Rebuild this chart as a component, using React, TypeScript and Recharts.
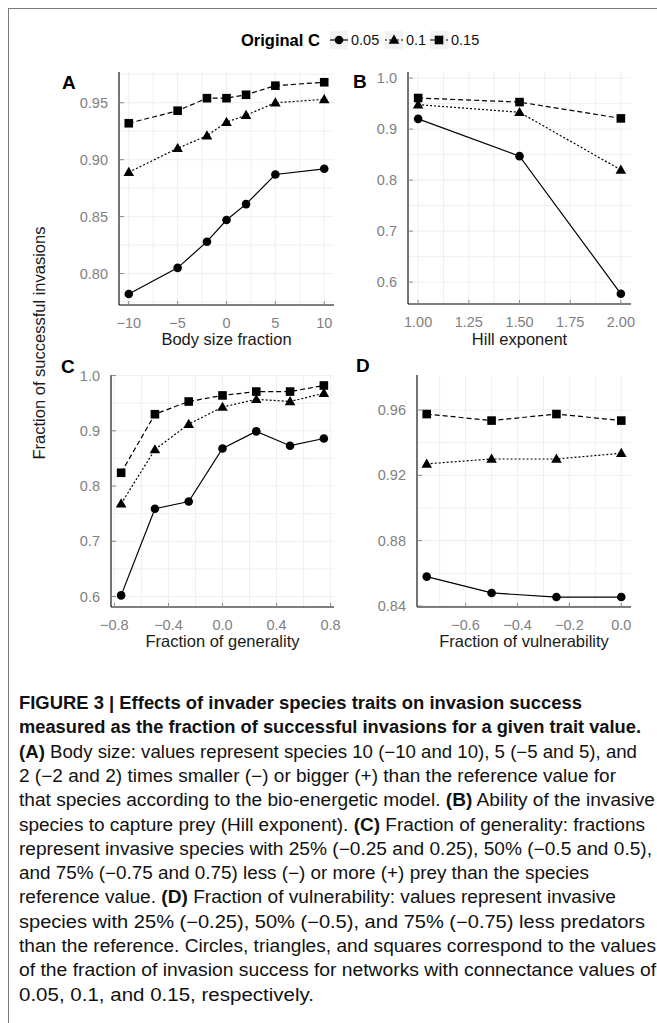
import React from "react";
import { LineChart, Line, XAxis, YAxis, CartesianGrid } from "recharts";

// ---- data ----
const bodySize = [-10, -5, -2, 0, 2, 5, 10];
const bodyC005 = [0.782, 0.805, 0.828, 0.847, 0.861, 0.887, 0.892];
const bodyC01 = [0.889, 0.91, 0.921, 0.933, 0.939, 0.95, 0.953];
const bodyC015 = [0.932, 0.943, 0.954, 0.954, 0.957, 0.965, 0.968];

const hill = [1, 1.5, 2];
const hillC005 = [0.92, 0.847, 0.577];
const hillC01 = [0.948, 0.933, 0.82];
const hillC015 = [0.961, 0.953, 0.921];

const generality = [-0.75, -0.5, -0.25, 0, 0.25, 0.5, 0.75];
const genC005 = [0.602, 0.759, 0.772, 0.868, 0.899, 0.873, 0.886];
const genC01 = [0.768, 0.866, 0.912, 0.943, 0.957, 0.953, 0.968];
const genC015 = [0.824, 0.93, 0.953, 0.964, 0.971, 0.971, 0.982];

const vulnerability = [-0.75, -0.5, -0.25, 0];
const vulC005 = [0.858, 0.848, 0.8455, 0.8455];
const vulC01 = [0.927, 0.93, 0.93, 0.9335];
const vulC015 = [0.9575, 0.9535, 0.9575, 0.9535];

// ticks (major) and minor grid values
const aXTicks = [-10, -5, 0, 5, 10];
const aXMinor = [-7.5, -2.5, 2.5, 7.5];
const aYTicks = [0.8, 0.85, 0.9, 0.95];
const aYMinor = [0.775, 0.825, 0.875, 0.925, 0.975];

const bXTicks = [1, 1.25, 1.5, 1.75, 2];
const bXMinor = [1.125, 1.375, 1.625, 1.875];
const bYTicks = [0.6, 0.7, 0.8, 0.9, 1.0];
const bYMinor = [0.65, 0.75, 0.85, 0.95];

const cXTicks = [-0.8, -0.4, 0, 0.4, 0.8];
const cXMinor = [-0.6, -0.2, 0.2, 0.6];
const cYTicks = [0.6, 0.7, 0.8, 0.9, 1.0];
const cYMinor = [0.65, 0.75, 0.85, 0.95];

const dXTicks = [-0.6, -0.4, -0.2, 0];
const dXMinor = [-0.7, -0.5, -0.3, -0.1];
const dYTicks = [0.84, 0.88, 0.92, 0.96];
const dYMinor = [0.86, 0.9, 0.94];

const legendLabels = ["0.05", "0.1", "0.15"];

const captionLines: [string, boolean][][] = [
  [["FIGURE 3 | Effects of invader species traits on invasion success", true]],
  [["measured as the fraction of successful invasions for a given trait value.", true]],
  [["(A)", true], [" Body size: values represent species 10 (\u221210 and 10), 5 (\u22125 and 5), and", false]],
  [["2 (\u22122 and 2) times smaller (\u2212) or bigger (+) than the reference value for", false]],
  [["that species according to the bio-energetic model. ", false], ["(B)", true], [" Ability of the invasive", false]],
  [["species to capture prey (Hill exponent). ", false], ["(C)", true], [" Fraction of generality: fractions", false]],
  [["represent invasive species with 25% (\u22120.25 and 0.25), 50% (\u22120.5 and 0.5),", false]],
  [["and 75% (\u22120.75 and 0.75) less (\u2212) or more (+) prey than the species", false]],
  [["reference value. ", false], ["(D)", true], [" Fraction of vulnerability: values represent invasive", false]],
  [["species with 25% (\u22120.25), 50% (\u22120.5), and 75% (\u22120.75) less predators", false]],
  [["than the reference. Circles, triangles, and squares correspond to the values", false]],
  [["of the fraction of invasion success for networks with connectance values of", false]],
  [["0.05, 0.1, and 0.15, respectively.", false]],
];
const captionEnds = [582, 641, 637, 616, 655, 645, 652, 589, 616, 645, 656, 656, 314];

const FONT = "'Liberation Sans', Arial, Helvetica, sans-serif";

const toRows = (xs: number[], a: number[], b: number[], c: number[]) =>
  xs.map((x, i) => ({ x, c05: a[i], c10: b[i], c15: c[i] }));

const fmt = (v: number, d: number) => {
  const s = Math.abs(v).toFixed(d);
  return v < -1e-9 ? "\u2212" + s : s;
};

const circleDot = (p: any) => (
  <circle key={`c${p.index}`} cx={p.cx} cy={p.cy} r={4.3} fill="#000" />
);
const triDot = (p: any) => (
  <path
    key={`t${p.index}`}
    d={`M${p.cx},${p.cy - 5.4}L${p.cx + 5.3},${p.cy + 3.8}L${p.cx - 5.3},${p.cy + 3.8}Z`}
    fill="#000"
  />
);
const squareDot = (p: any) => (
  <rect key={`s${p.index}`} x={p.cx - 4.3} y={p.cy - 4.3} width={8.6} height={8.6} fill="#000" />
);

const YW = 60;
const XH = 30;
const PAD = { left: 0, top: 12, right: 12, bottom: 0 };

const Panel = ({ rows, xTicks, xMinor, yTicks, yMinor, xDomain, yDomain, xDigits, yDigits, plot }: any) => {
  const width = plot.r - plot.l + YW + PAD.right;
  const height = plot.b - plot.t + PAD.top + XH;
  return (
    <div style={{ position: "absolute", left: plot.l - YW, top: plot.t - PAD.top }}>
      <LineChart width={width} height={height} data={rows} margin={PAD}>
        <CartesianGrid
          stroke="#ebebeb"
          strokeWidth={0.8}
          horizontalValues={[...yTicks, ...yMinor]}
          verticalValues={[...xTicks, ...xMinor]}
        />
        <XAxis
          type="number"
          dataKey="x"
          domain={xDomain}
          ticks={xTicks}
          interval={0}
          height={XH}
          tickSize={0}
          tickMargin={0}
          allowDataOverflow
          axisLine={{ stroke: "#000", strokeWidth: 1.1 }}
          tickLine={false}
          tick={(t: any) => (
            <g key={`x${t.index}`}>
              <line x1={t.x} x2={t.x} y1={t.y} y2={t.y - 4} stroke="#888" />
              <text x={t.x} y={t.y + 23} textAnchor="middle" fill="#7f7f7f" fontSize={14.5} fontFamily={FONT}>
                {fmt(t.payload.value, xDigits)}
              </text>
            </g>
          )}
        />
        <YAxis
          type="number"
          domain={yDomain}
          ticks={yTicks}
          interval={0}
          width={YW}
          tickSize={0}
          tickMargin={0}
          allowDataOverflow
          axisLine={{ stroke: "#000", strokeWidth: 1.1 }}
          tickLine={false}
          tick={(t: any) => (
            <g key={`y${t.index}`}>
              <line x1={t.x} x2={t.x + 5} y1={t.y} y2={t.y} stroke="#888" />
              <text x={t.x - 11} y={t.y + 5} textAnchor="end" fill="#7f7f7f" fontSize={14.5} fontFamily={FONT}>
                {fmt(t.payload.value, yDigits)}
              </text>
            </g>
          )}
        />
        <Line type="linear" dataKey="c15" stroke="#000" strokeWidth={1.2} strokeDasharray="5 3" dot={squareDot} isAnimationActive={false} />
        <Line type="linear" dataKey="c10" stroke="#000" strokeWidth={1.2} strokeDasharray="2 2" dot={triDot} isAnimationActive={false} />
        <Line type="linear" dataKey="c05" stroke="#000" strokeWidth={1.2} dot={circleDot} isAnimationActive={false} />
      </LineChart>
    </div>
  );
};

const LegendKey = ({ x, y, kind }: { x: number; y: number; kind: number }) => {
  const cx = x + 9;
  return (
    <g>
      <rect x={x} y={y - 9} width={18} height={18} fill="#f2f2f2" />
      <line
        x1={x}
        x2={x + 18}
        y1={y}
        y2={y}
        stroke="#000"
        strokeWidth={1.2}
        strokeDasharray={kind === 0 ? undefined : kind === 1 ? "2 2" : "5 3"}
      />
      {kind === 0 && <circle cx={cx} cy={y} r={4.3} fill="#000" />}
      {kind === 1 && <path d={`M${cx},${y - 5.4}L${cx + 5.3},${y + 3.8}L${cx - 5.3},${y + 3.8}Z`} fill="#000" />}
      {kind === 2 && <rect x={cx - 4.3} y={y - 4.3} width={8.6} height={8.6} fill="#000" />}
    </g>
  );
};

export default function App() {
  const legendY = 40;
  const keyXs = [330, 385, 430];
  const labelXs = [351, 406, 451];
  return (
    <div
      style={{
        position: "relative",
        width: 657,
        height: 1023,
        overflow: "hidden",
        background: "#fff",
        fontFamily: FONT,
      }}
    >
      <style>{`body{margin:0}`}</style>
      <div
        style={{
          position: "absolute",
          left: 8,
          top: 8,
          width: 700,
          height: 1100,
          border: "1.5px solid #7a7a7a",
        }}
      />
      <Panel
        rows={toRows(bodySize, bodyC005, bodyC01, bodyC015)}
        xTicks={aXTicks}
        xMinor={aXMinor}
        yTicks={aYTicks}
        yMinor={aYMinor}
        xDomain={[-11, 11]}
        yDomain={[0.7724, 0.977]}
        xDigits={0}
        yDigits={2}
        plot={{ l: 119, t: 72, r: 334, b: 305 }}
      />
      <Panel
        rows={toRows(hill, hillC005, hillC01, hillC015)}
        xTicks={bXTicks}
        xMinor={bXMinor}
        yTicks={bYTicks}
        yMinor={bYMinor}
        xDomain={[0.95, 2.05]}
        yDomain={[0.557, 1.012]}
        xDigits={2}
        yDigits={1}
        plot={{ l: 408, t: 72, r: 631, b: 304 }}
      />
      <Panel
        rows={toRows(generality, genC005, genC01, genC015)}
        xTicks={cXTicks}
        xMinor={cXMinor}
        yTicks={cYTicks}
        yMinor={cYMinor}
        xDomain={[-0.825, 0.825]}
        yDomain={[0.581, 1.001]}
        xDigits={1}
        yDigits={1}
        plot={{ l: 111, t: 375, r: 334, b: 607 }}
      />
      <Panel
        rows={toRows(vulnerability, vulC005, vulC01, vulC015)}
        xTicks={dXTicks}
        xMinor={dXMinor}
        yTicks={dYTicks}
        yMinor={dYMinor}
        xDomain={[-0.7875, 0.0375]}
        yDomain={[0.8394, 0.9814]}
        xDigits={1}
        yDigits={2}
        plot={{ l: 417, t: 375, r: 631, b: 607 }}
      />
      <svg
        width={657}
        height={1023}
        style={{ position: "absolute", left: 0, top: 0, pointerEvents: "none" }}
        fontFamily={FONT}
      >
        {/* legend */}
        <text x={241} y={legendY + 6} fontSize={16.5} fontWeight="bold" fill="#000">
          Original C
        </text>
        {legendLabels.map((lab, i) => (
          <g key={lab}>
            <LegendKey x={keyXs[i]} y={legendY} kind={i} />
            <text x={labelXs[i]} y={legendY + 5} fontSize={14.5} fill="#111">
              {lab}
            </text>
          </g>
        ))}

        {/* panel letters */}
        <text x={62} y={89} fontSize={19} fontWeight="bold">A</text>
        <text x={353} y={88} fontSize={19} fontWeight="bold">B</text>
        <text x={61} y={373} fontSize={19} fontWeight="bold">C</text>
        <text x={356} y={372} fontSize={19} fontWeight="bold">D</text>

        {/* axis titles */}
        <text x={226.5} y={345} fontSize={16.5} textAnchor="middle" fill="#1a1a1a">Body size fraction</text>
        <text x={519.5} y={345} fontSize={16.5} textAnchor="middle" fill="#1a1a1a">Hill exponent</text>
        <text x={222.5} y={647} fontSize={16.5} textAnchor="middle" fill="#1a1a1a">Fraction of generality</text>
        <text x={524} y={647} fontSize={16.5} textAnchor="middle" fill="#1a1a1a">Fraction of vulnerability</text>
        <text
          transform="translate(45,343) rotate(-90)"
          fontSize={16.5}
          textAnchor="middle"
          fill="#1a1a1a"
        >
          Fraction of successful invasions
        </text>

        {/* caption */}
        {captionLines.map((segs, i) => (
          <text
            key={i}
            x={19}
            y={709 + i * 24.3}
            fontSize={17.5}
            fill="#111"
            textLength={captionEnds[i] - 19}
            lengthAdjust="spacingAndGlyphs"
          >
            {segs.map(([s, b], j) => (
              <tspan key={j} fontWeight={b ? "bold" : "normal"}>
                {s}
              </tspan>
            ))}
          </text>
        ))}
      </svg>
    </div>
  );
}
